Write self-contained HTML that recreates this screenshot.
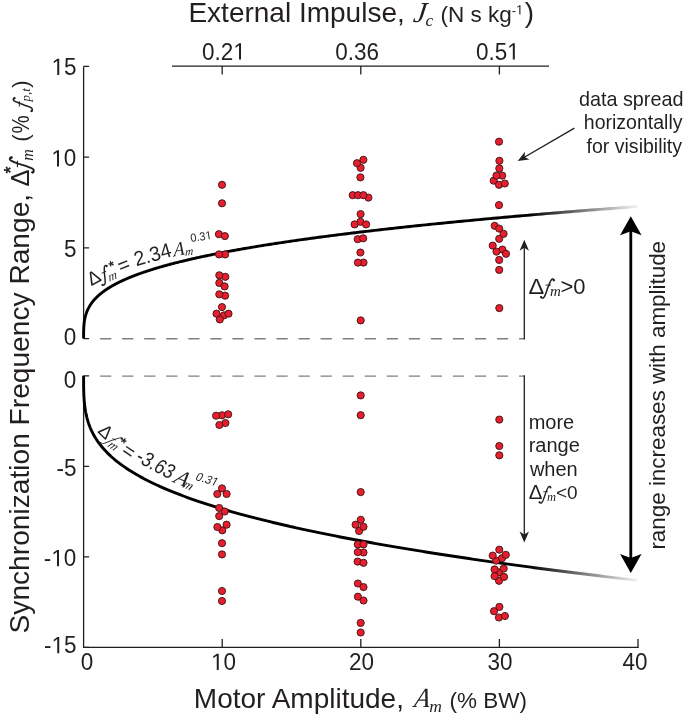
<!DOCTYPE html>
<html><head><meta charset="utf-8"><title>Synchronization frequency range</title>
<style>html,body{margin:0;padding:0;background:#fff;}svg{display:block;will-change:transform;}</style></head>
<body><svg width="685" height="716" viewBox="0 0 685 716">
<rect width="685" height="716" fill="#fff"/>
<path d="M83.60,66.35 V338.60 M83.60,375.80 V647.45 H638.60" stroke="#231f20" stroke-width="1.3" fill="none"/>
<path d="M83.60,66.35 h5.5 M83.60,157.10 h5.5 M83.60,247.85 h5.5 M83.60,338.60 h5.5 M83.60,375.80 h5.5 M83.60,466.35 h5.5 M83.60,556.90 h5.5 M83.60,647.45 h5.5 M222.20,647.45 v-8.5 M360.80,647.45 v-8.5 M499.40,647.45 v-8.5 M638.00,647.45 v-8.5" stroke="#231f20" stroke-width="1.3" fill="none"/>
<path d="M172,66.1 H549 M222.20,66.1 v8.4 M360.80,66.1 v8.4 M499.40,66.1 v8.4" stroke="#231f20" stroke-width="1.3" fill="none"/>
<path d="M100.1,338.70 H525 M100.1,376.15 H525" stroke="#7f7f7f" stroke-width="1.4" stroke-dasharray="11.2 10.85" fill="none"/>
<defs><g id="tf"><path d="M495,-630 C495,-690 420,-705 380,-660 C330,-600 290,-470 232,-332 C190,-220 160,-110 120,0 C90,90 60,170 10,200 C-30,225 -90,210 -105,168" fill="none" stroke="#231f20" stroke-width="72" stroke-linecap="round"/><circle cx="485" cy="-628" r="52"/><circle cx="-95" cy="170" r="52"/><path d="M105,-400 H355" stroke="#231f20" stroke-width="42"/></g></defs>
<defs><linearGradient id="fade" gradientUnits="userSpaceOnUse" x1="528" y1="0" x2="643" y2="0"><stop offset="0" stop-color="#000"/><stop offset="1" stop-color="#000" stop-opacity="0"/></linearGradient></defs>
<path d="M83.60,338.60 L83.60,338.25 L83.60,337.91 L83.60,337.57 L83.60,337.23 L83.60,336.89 L83.60,336.55 L83.60,336.21 L83.60,335.87 L83.60,335.54 L83.60,335.20 L83.61,334.86 L83.61,334.52 L83.61,334.19 L83.61,333.85 L83.62,333.51 L83.62,333.18 L83.62,332.84 L83.63,332.50 L83.63,332.17 L83.64,331.83 L83.64,331.50 L83.65,331.16 L83.66,330.83 L83.67,330.49 L83.68,330.16 L83.69,329.82 L83.70,329.49 L83.71,329.15 L83.72,328.82 L83.74,328.48 L83.75,328.15 L83.77,327.81 L83.79,327.48 L83.81,327.15 L83.83,326.81 L83.85,326.48 L83.87,326.14 L83.90,325.81 L83.92,325.48 L83.95,325.14 L83.98,324.81 L84.01,324.47 L84.04,324.14 L84.07,323.81 L84.11,323.47 L84.15,323.14 L84.19,322.81 L84.23,322.47 L84.27,322.14 L84.31,321.81 L84.36,321.47 L84.41,321.14 L84.46,320.81 L84.51,320.47 L84.57,320.14 L84.63,319.81 L84.69,319.48 L84.75,319.14 L84.81,318.81 L84.88,318.48 L84.95,318.14 L85.02,317.81 L85.10,317.48 L85.17,317.15 L85.25,316.81 L85.34,316.48 L85.42,316.15 L85.51,315.82 L85.60,315.48 L85.70,315.15 L85.79,314.82 L85.89,314.49 L86.00,314.16 L86.10,313.82 L86.21,313.49 L86.33,313.16 L86.44,312.83 L86.56,312.50 L86.69,312.16 L86.81,311.83 L86.94,311.50 L87.08,311.17 L87.22,310.84 L87.36,310.50 L87.50,310.17 L87.65,309.84 L87.80,309.51 L87.96,309.18 L88.12,308.85 L88.29,308.51 L88.45,308.18 L88.63,307.85 L88.80,307.52 L88.99,307.19 L89.17,306.86 L89.36,306.52 L89.56,306.19 L89.75,305.86 L89.96,305.53 L90.16,305.20 L90.38,304.87 L90.59,304.54 L90.82,304.21 L91.04,303.87 L91.27,303.54 L91.51,303.21 L91.75,302.88 L92.00,302.55 L92.25,302.22 L92.51,301.89 L92.77,301.56 L93.03,301.22 L93.31,300.89 L93.58,300.56 L93.87,300.23 L94.16,299.90 L94.45,299.57 L94.75,299.24 L95.05,298.91 L95.37,298.58 L95.68,298.25 L96.00,297.92 L96.33,297.58 L96.67,297.25 L97.01,296.92 L97.35,296.59 L97.71,296.26 L98.06,295.93 L98.43,295.60 L98.80,295.27 L99.18,294.94 L99.56,294.61 L99.95,294.28 L100.35,293.95 L100.75,293.62 L101.16,293.29 L101.58,292.96 L102.00,292.63 L102.43,292.29 L102.87,291.96 L103.31,291.63 L103.76,291.30 L104.22,290.97 L104.69,290.64 L105.16,290.31 L105.64,289.98 L106.12,289.65 L106.62,289.32 L107.12,288.99 L107.63,288.66 L108.14,288.33 L108.67,288.00 L109.20,287.67 L109.74,287.34 L110.29,287.01 L110.84,286.68 L111.40,286.35 L111.97,286.02 L112.55,285.69 L113.14,285.36 L113.74,285.03 L114.34,284.70 L114.95,284.37 L115.57,284.04 L116.20,283.71 L116.83,283.38 L117.48,283.05 L118.13,282.72 L118.79,282.39 L119.46,282.06 L120.14,281.73 L120.83,281.40 L121.53,281.07 L122.24,280.74 L122.95,280.41 L123.67,280.08 L124.41,279.75 L125.15,279.42 L125.90,279.09 L126.66,278.76 L127.43,278.43 L128.21,278.10 L129.00,277.77 L129.80,277.44 L130.61,277.11 L131.43,276.78 L132.25,276.45 L133.09,276.12 L133.94,275.79 L134.80,275.46 L135.66,275.13 L136.54,274.80 L137.43,274.47 L138.33,274.14 L139.23,273.82 L140.15,273.49 L141.08,273.16 L142.02,272.83 L142.97,272.50 L143.93,272.17 L144.90,271.84 L145.88,271.51 L146.87,271.18 L147.88,270.85 L148.89,270.52 L149.91,270.19 L150.95,269.86 L152.00,269.53 L153.05,269.20 L154.12,268.87 L155.20,268.54 L156.30,268.21 L157.40,267.88 L158.51,267.56 L159.64,267.23 L160.78,266.90 L161.93,266.57 L163.09,266.24 L164.26,265.91 L165.44,265.58 L166.64,265.25 L167.85,264.92 L169.07,264.59 L170.30,264.26 L171.55,263.93 L172.80,263.60 L174.07,263.28 L175.35,262.95 L176.65,262.62 L177.95,262.29 L179.27,261.96 L180.60,261.63 L181.95,261.30 L183.31,260.97 L184.68,260.64 L186.06,260.31 L187.45,259.98 L188.86,259.66 L190.29,259.33 L191.72,259.00 L193.17,258.67 L194.63,258.34 L196.10,258.01 L197.59,257.68 L199.09,257.35 L200.61,257.02 L202.14,256.69 L203.68,256.37 L205.24,256.04 L206.81,255.71 L208.39,255.38 L209.99,255.05 L211.60,254.72 L213.23,254.39 L214.87,254.06 L216.52,253.73 L218.19,253.41 L219.87,253.08 L221.57,252.75 L223.28,252.42 L225.01,252.09 L226.75,251.76 L228.51,251.43 L230.28,251.10 L232.06,250.77 L233.86,250.45 L235.68,250.12 L237.51,249.79 L239.35,249.46 L241.21,249.13 L243.09,248.80 L244.98,248.47 L246.89,248.14 L248.81,247.82 L250.75,247.49 L252.70,247.16 L254.67,246.83 L256.65,246.50 L258.65,246.17 L260.67,245.84 L262.70,245.52 L264.75,245.19 L266.81,244.86 L268.89,244.53 L270.98,244.20 L273.10,243.87 L275.23,243.54 L277.37,243.22 L279.53,242.89 L281.71,242.56 L283.90,242.23 L286.11,241.90 L288.34,241.57 L290.59,241.24 L292.85,240.92 L295.13,240.59 L297.42,240.26 L299.73,239.93 L302.06,239.60 L304.41,239.27 L306.77,238.95 L309.16,238.62 L311.55,238.29 L313.97,237.96 L316.40,237.63 L318.86,237.30 L321.32,236.97 L323.81,236.65 L326.32,236.32 L328.84,235.99 L331.38,235.66 L333.94,235.33 L336.51,235.00 L339.11,234.68 L341.72,234.35 L344.35,234.02 L347.00,233.69 L349.67,233.36 L352.36,233.03 L355.06,232.71 L357.79,232.38 L360.53,232.05 L363.29,231.72 L366.07,231.39 L368.87,231.07 L371.69,230.74 L374.53,230.41 L377.38,230.08 L380.26,229.75 L383.15,229.42 L386.07,229.10 L389.00,228.77 L391.96,228.44 L394.93,228.11 L397.92,227.78 L400.93,227.46 L403.97,227.13 L407.02,226.80 L410.09,226.47 L413.18,226.14 L416.29,225.81 L419.43,225.49 L422.58,225.16 L425.75,224.83 L428.94,224.50 L432.16,224.17 L435.39,223.85 L438.65,223.52 L441.92,223.19 L445.22,222.86 L448.53,222.53 L451.87,222.21 L455.23,221.88 L458.61,221.55 L462.01,221.22 L465.43,220.89 L468.87,220.57 L472.34,220.24 L475.82,219.91 L479.33,219.58 L482.86,219.25 L486.41,218.93 L489.98,218.60 L493.57,218.27 L497.19,217.94 L500.83,217.61 L504.48,217.29 L508.17,216.96 L511.87,216.63 L515.59,216.30 L519.34,215.98 L523.11,215.65 L526.90,215.32 L530.72,214.99 L534.55,214.66 L538.41,214.34 L542.29,214.01 L546.20,213.68 L550.13,213.35 L554.08,213.02 L558.05,212.70 L562.05,212.37 L566.07,212.04 L570.11,211.71 L574.18,211.39 L578.26,211.06 L582.38,210.73 L586.51,210.40 L590.67,210.07 L594.86,209.75 L599.06,209.42 L603.29,209.09 L607.55,208.76 L611.83,208.44 L616.13,208.11 L620.45,207.78 L624.80,207.45 L629.18,207.12 L633.58,206.80 L638.00,206.47" stroke="url(#fade)" stroke-width="2.9" fill="none"/>
<path d="M83.60,375.80 L83.60,376.34 L83.60,376.87 L83.60,377.40 L83.60,377.92 L83.60,378.45 L83.60,378.97 L83.60,379.50 L83.60,380.02 L83.60,380.54 L83.60,381.07 L83.61,381.59 L83.61,382.11 L83.61,382.63 L83.61,383.15 L83.62,383.68 L83.62,384.20 L83.62,384.72 L83.63,385.24 L83.63,385.76 L83.64,386.28 L83.64,386.80 L83.65,387.32 L83.66,387.84 L83.67,388.35 L83.68,388.87 L83.69,389.39 L83.70,389.91 L83.71,390.43 L83.72,390.95 L83.74,391.46 L83.75,391.98 L83.77,392.50 L83.79,393.02 L83.81,393.54 L83.83,394.05 L83.85,394.57 L83.87,395.09 L83.90,395.60 L83.92,396.12 L83.95,396.64 L83.98,397.15 L84.01,397.67 L84.04,398.19 L84.07,398.70 L84.11,399.22 L84.15,399.74 L84.19,400.25 L84.23,400.77 L84.27,401.29 L84.31,401.80 L84.36,402.32 L84.41,402.83 L84.46,403.35 L84.51,403.86 L84.57,404.38 L84.63,404.90 L84.69,405.41 L84.75,405.93 L84.81,406.44 L84.88,406.96 L84.95,407.47 L85.02,407.99 L85.10,408.50 L85.17,409.02 L85.25,409.53 L85.34,410.05 L85.42,410.56 L85.51,411.07 L85.60,411.59 L85.70,412.10 L85.79,412.62 L85.89,413.13 L86.00,413.65 L86.10,414.16 L86.21,414.68 L86.33,415.19 L86.44,415.70 L86.56,416.22 L86.69,416.73 L86.81,417.25 L86.94,417.76 L87.08,418.27 L87.22,418.79 L87.36,419.30 L87.50,419.81 L87.65,420.33 L87.80,420.84 L87.96,421.36 L88.12,421.87 L88.29,422.38 L88.45,422.90 L88.63,423.41 L88.80,423.92 L88.99,424.44 L89.17,424.95 L89.36,425.46 L89.56,425.98 L89.75,426.49 L89.96,427.00 L90.16,427.51 L90.38,428.03 L90.59,428.54 L90.82,429.05 L91.04,429.57 L91.27,430.08 L91.51,430.59 L91.75,431.11 L92.00,431.62 L92.25,432.13 L92.51,432.64 L92.77,433.16 L93.03,433.67 L93.31,434.18 L93.58,434.69 L93.87,435.21 L94.16,435.72 L94.45,436.23 L94.75,436.74 L95.05,437.26 L95.37,437.77 L95.68,438.28 L96.00,438.79 L96.33,439.30 L96.67,439.82 L97.01,440.33 L97.35,440.84 L97.71,441.35 L98.06,441.86 L98.43,442.38 L98.80,442.89 L99.18,443.40 L99.56,443.91 L99.95,444.42 L100.35,444.94 L100.75,445.45 L101.16,445.96 L101.58,446.47 L102.00,446.98 L102.43,447.49 L102.87,448.01 L103.31,448.52 L103.76,449.03 L104.22,449.54 L104.69,450.05 L105.16,450.56 L105.64,451.08 L106.12,451.59 L106.62,452.10 L107.12,452.61 L107.63,453.12 L108.14,453.63 L108.67,454.14 L109.20,454.66 L109.74,455.17 L110.29,455.68 L110.84,456.19 L111.40,456.70 L111.97,457.21 L112.55,457.72 L113.14,458.23 L113.74,458.74 L114.34,459.26 L114.95,459.77 L115.57,460.28 L116.20,460.79 L116.83,461.30 L117.48,461.81 L118.13,462.32 L118.79,462.83 L119.46,463.34 L120.14,463.85 L120.83,464.36 L121.53,464.88 L122.24,465.39 L122.95,465.90 L123.67,466.41 L124.41,466.92 L125.15,467.43 L125.90,467.94 L126.66,468.45 L127.43,468.96 L128.21,469.47 L129.00,469.98 L129.80,470.49 L130.61,471.00 L131.43,471.51 L132.25,472.02 L133.09,472.53 L133.94,473.04 L134.80,473.56 L135.66,474.07 L136.54,474.58 L137.43,475.09 L138.33,475.60 L139.23,476.11 L140.15,476.62 L141.08,477.13 L142.02,477.64 L142.97,478.15 L143.93,478.66 L144.90,479.17 L145.88,479.68 L146.87,480.19 L147.88,480.70 L148.89,481.21 L149.91,481.72 L150.95,482.23 L152.00,482.74 L153.05,483.25 L154.12,483.76 L155.20,484.27 L156.30,484.78 L157.40,485.29 L158.51,485.80 L159.64,486.31 L160.78,486.82 L161.93,487.33 L163.09,487.84 L164.26,488.35 L165.44,488.86 L166.64,489.37 L167.85,489.88 L169.07,490.39 L170.30,490.90 L171.55,491.41 L172.80,491.92 L174.07,492.43 L175.35,492.94 L176.65,493.44 L177.95,493.95 L179.27,494.46 L180.60,494.97 L181.95,495.48 L183.31,495.99 L184.68,496.50 L186.06,497.01 L187.45,497.52 L188.86,498.03 L190.29,498.54 L191.72,499.05 L193.17,499.56 L194.63,500.07 L196.10,500.58 L197.59,501.09 L199.09,501.60 L200.61,502.11 L202.14,502.62 L203.68,503.12 L205.24,503.63 L206.81,504.14 L208.39,504.65 L209.99,505.16 L211.60,505.67 L213.23,506.18 L214.87,506.69 L216.52,507.20 L218.19,507.71 L219.87,508.22 L221.57,508.73 L223.28,509.23 L225.01,509.74 L226.75,510.25 L228.51,510.76 L230.28,511.27 L232.06,511.78 L233.86,512.29 L235.68,512.80 L237.51,513.31 L239.35,513.82 L241.21,514.33 L243.09,514.83 L244.98,515.34 L246.89,515.85 L248.81,516.36 L250.75,516.87 L252.70,517.38 L254.67,517.89 L256.65,518.40 L258.65,518.91 L260.67,519.41 L262.70,519.92 L264.75,520.43 L266.81,520.94 L268.89,521.45 L270.98,521.96 L273.10,522.47 L275.23,522.98 L277.37,523.48 L279.53,523.99 L281.71,524.50 L283.90,525.01 L286.11,525.52 L288.34,526.03 L290.59,526.54 L292.85,527.04 L295.13,527.55 L297.42,528.06 L299.73,528.57 L302.06,529.08 L304.41,529.59 L306.77,530.10 L309.16,530.60 L311.55,531.11 L313.97,531.62 L316.40,532.13 L318.86,532.64 L321.32,533.15 L323.81,533.66 L326.32,534.16 L328.84,534.67 L331.38,535.18 L333.94,535.69 L336.51,536.20 L339.11,536.71 L341.72,537.21 L344.35,537.72 L347.00,538.23 L349.67,538.74 L352.36,539.25 L355.06,539.76 L357.79,540.26 L360.53,540.77 L363.29,541.28 L366.07,541.79 L368.87,542.30 L371.69,542.80 L374.53,543.31 L377.38,543.82 L380.26,544.33 L383.15,544.84 L386.07,545.35 L389.00,545.85 L391.96,546.36 L394.93,546.87 L397.92,547.38 L400.93,547.89 L403.97,548.39 L407.02,548.90 L410.09,549.41 L413.18,549.92 L416.29,550.43 L419.43,550.93 L422.58,551.44 L425.75,551.95 L428.94,552.46 L432.16,552.97 L435.39,553.47 L438.65,553.98 L441.92,554.49 L445.22,555.00 L448.53,555.51 L451.87,556.01 L455.23,556.52 L458.61,557.03 L462.01,557.54 L465.43,558.04 L468.87,558.55 L472.34,559.06 L475.82,559.57 L479.33,560.08 L482.86,560.58 L486.41,561.09 L489.98,561.60 L493.57,562.11 L497.19,562.61 L500.83,563.12 L504.48,563.63 L508.17,564.14 L511.87,564.65 L515.59,565.15 L519.34,565.66 L523.11,566.17 L526.90,566.68 L530.72,567.18 L534.55,567.69 L538.41,568.20 L542.29,568.71 L546.20,569.21 L550.13,569.72 L554.08,570.23 L558.05,570.74 L562.05,571.24 L566.07,571.75 L570.11,572.26 L574.18,572.77 L578.26,573.27 L582.38,573.78 L586.51,574.29 L590.67,574.80 L594.86,575.30 L599.06,575.81 L603.29,576.32 L607.55,576.83 L611.83,577.33 L616.13,577.84 L620.45,578.35 L624.80,578.86 L629.18,579.36 L633.58,579.87 L638.00,580.38" stroke="url(#fade)" stroke-width="2.9" fill="none"/>
<g fill="#e61e2d" stroke="#3a1416" stroke-width="0.9">
<circle cx="222.0" cy="184.8" r="3.6"/>
<circle cx="222.0" cy="203.3" r="3.6"/>
<circle cx="218.9" cy="234.2" r="3.6"/>
<circle cx="224.9" cy="236.1" r="3.6"/>
<circle cx="225.1" cy="254.4" r="3.6"/>
<circle cx="219.1" cy="254.4" r="3.6"/>
<circle cx="225.3" cy="276.8" r="3.6"/>
<circle cx="219.3" cy="275.3" r="3.6"/>
<circle cx="219.3" cy="282.9" r="3.6"/>
<circle cx="224.6" cy="286.4" r="3.6"/>
<circle cx="225.1" cy="295.7" r="3.6"/>
<circle cx="219.3" cy="294.3" r="3.6"/>
<circle cx="223.9" cy="315.4" r="3.6"/>
<circle cx="219.8" cy="319.4" r="3.6"/>
<circle cx="216.5" cy="313.7" r="3.6"/>
<circle cx="228.5" cy="313.7" r="3.6"/>
<circle cx="222.0" cy="307.1" r="3.6"/>
<circle cx="221.9" cy="415.3" r="3.6"/>
<circle cx="216.1" cy="415.7" r="3.6"/>
<circle cx="228.2" cy="414.3" r="3.6"/>
<circle cx="225.4" cy="423.0" r="3.6"/>
<circle cx="219.4" cy="425.0" r="3.6"/>
<circle cx="222.0" cy="488.4" r="3.6"/>
<circle cx="217.3" cy="494.0" r="3.6"/>
<circle cx="226.6" cy="494.0" r="3.6"/>
<circle cx="219.2" cy="508.0" r="3.6"/>
<circle cx="224.7" cy="511.5" r="3.6"/>
<circle cx="219.2" cy="516.1" r="3.6"/>
<circle cx="222.3" cy="530.3" r="3.6"/>
<circle cx="217.4" cy="527.0" r="3.6"/>
<circle cx="226.6" cy="524.7" r="3.6"/>
<circle cx="222.0" cy="543.2" r="3.6"/>
<circle cx="222.0" cy="554.4" r="3.6"/>
<circle cx="222.0" cy="591.0" r="3.6"/>
<circle cx="222.0" cy="601.0" r="3.6"/>
<circle cx="360.6" cy="167.8" r="3.6"/>
<circle cx="357.0" cy="163.2" r="3.6"/>
<circle cx="363.4" cy="159.8" r="3.6"/>
<circle cx="360.4" cy="177.4" r="3.6"/>
<circle cx="352.7" cy="195.2" r="3.6"/>
<circle cx="358.0" cy="195.2" r="3.6"/>
<circle cx="368.4" cy="197.6" r="3.6"/>
<circle cx="363.4" cy="195.2" r="3.6"/>
<circle cx="360.4" cy="221.8" r="3.6"/>
<circle cx="360.6" cy="214.1" r="3.6"/>
<circle cx="354.6" cy="224.4" r="3.6"/>
<circle cx="366.1" cy="224.4" r="3.6"/>
<circle cx="357.7" cy="239.2" r="3.6"/>
<circle cx="363.2" cy="238.3" r="3.6"/>
<circle cx="360.4" cy="252.5" r="3.6"/>
<circle cx="363.5" cy="262.6" r="3.6"/>
<circle cx="357.9" cy="262.6" r="3.6"/>
<circle cx="360.7" cy="320.4" r="3.6"/>
<circle cx="360.7" cy="395.4" r="3.6"/>
<circle cx="360.7" cy="415.2" r="3.6"/>
<circle cx="360.7" cy="492.1" r="3.6"/>
<circle cx="360.8" cy="519.8" r="3.6"/>
<circle cx="359.1" cy="531.0" r="3.6"/>
<circle cx="355.6" cy="524.7" r="3.6"/>
<circle cx="363.5" cy="526.8" r="3.6"/>
<circle cx="357.8" cy="544.4" r="3.6"/>
<circle cx="363.5" cy="544.4" r="3.6"/>
<circle cx="363.5" cy="552.5" r="3.6"/>
<circle cx="357.8" cy="552.1" r="3.6"/>
<circle cx="357.6" cy="561.6" r="3.6"/>
<circle cx="363.5" cy="562.8" r="3.6"/>
<circle cx="357.9" cy="583.5" r="3.6"/>
<circle cx="363.5" cy="587.1" r="3.6"/>
<circle cx="357.9" cy="596.7" r="3.6"/>
<circle cx="363.5" cy="600.5" r="3.6"/>
<circle cx="360.7" cy="622.9" r="3.6"/>
<circle cx="360.7" cy="632.5" r="3.6"/>
<circle cx="499.0" cy="141.7" r="3.6"/>
<circle cx="499.4" cy="160.8" r="3.6"/>
<circle cx="499.3" cy="168.4" r="3.6"/>
<circle cx="502.2" cy="175.6" r="3.6"/>
<circle cx="493.7" cy="180.7" r="3.6"/>
<circle cx="496.5" cy="175.6" r="3.6"/>
<circle cx="499.0" cy="184.8" r="3.6"/>
<circle cx="504.8" cy="183.5" r="3.6"/>
<circle cx="499.0" cy="205.1" r="3.6"/>
<circle cx="494.7" cy="225.8" r="3.6"/>
<circle cx="499.2" cy="228.6" r="3.6"/>
<circle cx="499.2" cy="238.8" r="3.6"/>
<circle cx="503.6" cy="233.8" r="3.6"/>
<circle cx="492.7" cy="245.6" r="3.6"/>
<circle cx="502.4" cy="249.6" r="3.6"/>
<circle cx="506.0" cy="253.8" r="3.6"/>
<circle cx="496.5" cy="251.6" r="3.6"/>
<circle cx="499.2" cy="259.9" r="3.6"/>
<circle cx="499.2" cy="269.9" r="3.6"/>
<circle cx="499.3" cy="308.1" r="3.6"/>
<circle cx="499.3" cy="419.6" r="3.6"/>
<circle cx="499.3" cy="446.0" r="3.6"/>
<circle cx="499.3" cy="455.3" r="3.6"/>
<circle cx="496.3" cy="560.6" r="3.6"/>
<circle cx="502.0" cy="558.2" r="3.6"/>
<circle cx="499.3" cy="549.7" r="3.6"/>
<circle cx="492.7" cy="555.6" r="3.6"/>
<circle cx="505.8" cy="554.8" r="3.6"/>
<circle cx="499.0" cy="572.4" r="3.6"/>
<circle cx="499.0" cy="580.8" r="3.6"/>
<circle cx="494.6" cy="569.4" r="3.6"/>
<circle cx="503.7" cy="568.6" r="3.6"/>
<circle cx="494.6" cy="576.1" r="3.6"/>
<circle cx="504.0" cy="576.9" r="3.6"/>
<circle cx="499.4" cy="606.9" r="3.6"/>
<circle cx="494.0" cy="611.2" r="3.6"/>
<circle cx="498.9" cy="617.5" r="3.6"/>
<circle cx="504.9" cy="616.0" r="3.6"/>
</g>
<path d="M524.3,339.20 V246 M524.3,375.20 V535" stroke="#231f20" stroke-width="1.3" fill="none"/>
<path d="M524.30,239.80 L529.00,250.80 L524.30,247.80 L519.60,250.80 Z" fill="#231f20"/>
<path d="M524.30,542.60 L519.60,531.60 L524.30,534.60 L529.00,531.60 Z" fill="#231f20"/>
<path d="M630.8,228 V563" stroke="#000" stroke-width="2.8" fill="none"/>
<path d="M630.80,216.30 L641.55,235.30 L630.80,231.30 L620.05,235.30 Z" fill="#000"/>
<path d="M630.80,573.00 L620.05,554.00 L630.80,558.00 L641.55,554.00 Z" fill="#000"/>
<path d="M574.4,128.2 L523,158" stroke="#231f20" stroke-width="1.4" fill="none"/>
<path d="M517.70,161.10 L524.96,151.69 L524.62,157.08 L529.47,159.47 Z" fill="#231f20"/>
<g transform="translate(53.35,74.98) scale(1,1.05)"><text x="-1.75" y="0" font-family="Liberation Sans" font-size="22.5" fill="#231f20"> 5</text><path d="M515,0V1237L197,1010V1180L530,1409H696V0Z" fill="#231f20" transform="translate(-1.750,0) scale(0.010986,-0.010986)"/></g>
<g transform="translate(53.10,166.45) scale(1,1.05)"><text x="-1.75" y="0" font-family="Liberation Sans" font-size="22.5" fill="#231f20"> 0</text><path d="M515,0V1237L197,1010V1180L530,1409H696V0Z" fill="#231f20" transform="translate(-1.750,0) scale(0.010986,-0.010986)"/></g>
<g transform="translate(65.10,257.33) scale(1,1.05)"><text x="-1.00" y="0" font-family="Liberation Sans" font-size="22.5" fill="#231f20">5</text></g>
<g transform="translate(64.85,345.15) scale(1,1.05)"><text x="-1.00" y="0" font-family="Liberation Sans" font-size="22.5" fill="#231f20">0</text></g>
<g transform="translate(64.85,387.95) scale(1,1.05)"><text x="-1.00" y="0" font-family="Liberation Sans" font-size="22.5" fill="#231f20">0</text></g>
<g transform="translate(57.60,475.92) scale(1,1.05)"><text x="-1.00" y="0" font-family="Liberation Sans" font-size="22.5" fill="#231f20">-5</text></g>
<g transform="translate(44.85,566.15) scale(1,1.05)"><text x="-1.00" y="0" font-family="Liberation Sans" font-size="22.5" fill="#231f20">- 0</text><path d="M515,0V1237L197,1010V1180L530,1409H696V0Z" fill="#231f20" transform="translate(6.492,0) scale(0.010986,-0.010986)"/></g>
<g transform="translate(45.10,653.32) scale(1,1.05)"><text x="-1.00" y="0" font-family="Liberation Sans" font-size="22.5" fill="#231f20">- 5</text><path d="M515,0V1237L197,1010V1180L530,1409H696V0Z" fill="#231f20" transform="translate(6.492,0) scale(0.010986,-0.010986)"/></g>
<g transform="translate(81.62,669.90) scale(1,1.05)"><text x="-1.00" y="0" font-family="Liberation Sans" font-size="22.5" fill="#231f20">0</text></g>
<g transform="translate(212.85,669.90) scale(1,1.05)"><text x="-1.75" y="0" font-family="Liberation Sans" font-size="22.5" fill="#231f20"> 0</text><path d="M515,0V1237L197,1010V1180L530,1409H696V0Z" fill="#231f20" transform="translate(-1.750,0) scale(0.010986,-0.010986)"/></g>
<g transform="translate(350.30,669.90) scale(1,1.05)"><text x="-1.25" y="0" font-family="Liberation Sans" font-size="22.5" fill="#231f20">20</text></g>
<g transform="translate(488.57,669.90) scale(1,1.05)"><text x="-1.00" y="0" font-family="Liberation Sans" font-size="22.5" fill="#231f20">30</text></g>
<g transform="translate(622.92,669.90) scale(1,1.05)"><text x="-0.50" y="0" font-family="Liberation Sans" font-size="22.5" fill="#231f20">40</text></g>
<g transform="translate(203.10,59.60) scale(1,1.05)"><text x="-1.00" y="0" font-family="Liberation Sans" font-size="22.5" fill="#231f20">0.2 </text><path d="M515,0V1237L197,1010V1180L530,1409H696V0Z" fill="#231f20" transform="translate(30.273,0) scale(0.010986,-0.010986)"/></g>
<g transform="translate(336.30,59.60) scale(1,1.05)"><text x="-1.00" y="0" font-family="Liberation Sans" font-size="22.5" fill="#231f20">0.36</text></g>
<g transform="translate(476.90,59.60) scale(1,1.05)"><text x="-1.00" y="0" font-family="Liberation Sans" font-size="22.5" fill="#231f20">0.5 </text><path d="M515,0V1237L197,1010V1180L530,1409H696V0Z" fill="#231f20" transform="translate(30.273,0) scale(0.010986,-0.010986)"/></g>
<text x="188.45" y="21.70" font-family="Liberation Sans" font-size="28" fill="#231f20">External Impulse,</text>
<g transform="translate(413.00,21.90) skewX(-8)"><text x="-0.50" y="0" font-family="Liberation Serif" font-style="italic" font-size="29" fill="#231f20">J</text></g>
<text x="425.40" y="26.20" font-family="Liberation Serif" font-style="italic" font-size="17.5" fill="#231f20">c</text>
<text x="440.50" y="21.70" font-family="Liberation Sans" font-size="22.5" fill="#231f20">(N s kg</text>
<g transform="translate(512.20,14.60) scale(1,1.05)"><text x="-0.50" y="0" font-family="Liberation Sans" font-size="13" fill="#231f20">- </text><path d="M515,0V1237L197,1010V1180L530,1409H696V0Z" fill="#231f20" transform="translate(3.828,0) scale(0.006348,-0.006348)"/></g>
<text x="524.75" y="21.70" font-family="Liberation Sans" font-size="28" fill="#231f20">)</text>
<text x="193.85" y="708.00" font-family="Liberation Sans" font-size="28" fill="#231f20">Motor Amplitude,</text>
<g transform="translate(412.20,707.30) scale(0.93,1) skewX(-10)"><text x="1.50" y="0" font-family="Liberation Serif" font-style="italic" font-size="27.5" fill="#231f20">A</text></g>
<text x="429.25" y="711.60" font-family="Liberation Serif" font-style="italic" font-size="17.5" fill="#231f20">m</text>
<text x="449.50" y="707.60" font-family="Liberation Sans" font-size="22.5" fill="#231f20">(% BW)</text>
<g transform="translate(28.7,631.8) rotate(-90)"><text x="-1.65" y="0.00" font-family="Liberation Sans" font-size="28.15" fill="#231f20">Synchronization Frequency Range,</text><text x="445.35" y="0.00" font-family="Liberation Sans" font-size="25.5" fill="#231f20">Δ</text><use href="#tf" fill="#231f20" transform=" translate(461.997,-0.590) scale(0.02515,0.02671)"/><text x="458.30" y="-11.50" font-family="Liberation Sans" font-weight="bold" font-size="18" fill="#231f20">*</text><text x="471.00" y="3.80" font-family="Liberation Serif" font-style="italic" font-size="16" fill="#231f20">m</text><text x="490.10" y="-1.00" font-family="Liberation Sans" font-size="22.5" fill="#231f20">(</text><g transform="translate(499.00,0.10) scale(0.93,1.09)"><text x="-0.75" y="0" font-family="Liberation Sans" font-size="22" fill="#231f20">%</text></g><use href="#tf" fill="#231f20" transform=" translate(522.843,-0.857) scale(0.02206,0.02122)"/><text x="530.25" y="1.60" font-family="Liberation Serif" font-style="italic" font-size="13" fill="#231f20">p,t</text><text x="543.95" y="-1.00" font-family="Liberation Sans" font-size="22.5" fill="#231f20">)</text></g>
<text x="578.95" y="105.80" font-family="Liberation Sans" font-size="19.8" fill="#231f20">data spread</text>
<text x="583.85" y="129.10" font-family="Liberation Sans" font-size="19.5" fill="#231f20">horizontally</text>
<text x="586.55" y="152.60" font-family="Liberation Sans" font-size="19.55" fill="#231f20">for visibility</text>
<g transform="translate(529.30,293.70) scale(1.07,1)"><text x="-0.75" y="0" font-family="Liberation Sans" font-size="22" fill="#231f20">Δ</text></g>
<use href="#tf" fill="#231f20" transform=" translate(543.199,293.568) scale(0.02176,0.02112)"/>
<text x="550.00" y="295.60" font-family="Liberation Serif" font-style="italic" font-size="15" fill="#231f20">m</text>
<text x="560.50" y="293.70" font-family="Liberation Sans" font-size="22" fill="#231f20">&gt;0</text>
<text x="528.65" y="428.70" font-family="Liberation Sans" font-size="20" fill="#231f20">more</text>
<text x="528.65" y="452.20" font-family="Liberation Sans" font-size="20" fill="#231f20">range</text>
<text x="529.90" y="475.50" font-family="Liberation Sans" font-size="20" fill="#231f20">when</text>
<g transform="translate(529.30,498.80) scale(1.05,1)"><text x="-0.50" y="0" font-family="Liberation Sans" font-size="19.5" fill="#231f20">Δ</text></g>
<use href="#tf" fill="#231f20" transform=" translate(541.345,499.097) scale(0.01868,0.01853)"/>
<text x="547.10" y="500.60" font-family="Liberation Serif" font-style="italic" font-size="12.5" fill="#231f20">m</text>
<text x="556.00" y="498.80" font-family="Liberation Sans" font-size="19" fill="#231f20">&lt;0</text>
<g transform="translate(664.8,548.7) rotate(-90)"><text x="-0.90" y="0.00" font-family="Liberation Sans" font-size="22.4" fill="#231f20">range increases with amplitude</text></g>
<g transform="translate(91.8,285.9) rotate(-29)"><text x="-0.50" y="0.00" font-family="Liberation Sans" font-size="19" fill="#231f20">Δ</text></g>
<use href="#tf" fill="#231f20" transform="translate(102.5,281.5) rotate(-26) translate(0.526,-0.178) scale(0.02059,0.01884)"/>
<g transform="translate(111.3,271.2) rotate(-22)"><text x="0.00" y="0.00" font-family="Liberation Sans" font-weight="bold" font-size="14" fill="#231f20">*</text></g>
<g transform="translate(109.6,281.6) rotate(-24) skewX(-12)"><text x="-0.50" y="0.00" font-family="Liberation Serif" font-style="italic" font-size="12.5" fill="#231f20">m</text></g>
<g transform="translate(121.6,272.8) rotate(-22)"><text x="-1.00" y="0.00" font-family="Liberation Sans" font-size="20" fill="#231f20">=</text></g>
<g transform="translate(137.1,266.1) rotate(-16)"><g transform="translate(0.00,0.00) scale(1,1.05)"><text x="-1.00" y="0" font-family="Liberation Sans" font-size="19.5" fill="#231f20">2.34</text></g></g>
<g transform="translate(172.8,256.6) rotate(-11) skewX(-10) scale(0.93,1)"><text x="1.00" y="0.00" font-family="Liberation Serif" font-style="italic" font-size="19.5" fill="#231f20">A</text></g>
<g transform="translate(185.6,255.9) rotate(-10) skewX(-12)"><text x="-0.50" y="0.00" font-family="Liberation Serif" font-style="italic" font-size="11.5" fill="#231f20">m</text></g>
<g transform="translate(191.5,242.0) rotate(-9)"><g transform="translate(0.00,0.00) scale(1,1.05)"><text x="-0.50" y="0" font-family="Liberation Sans" font-size="11" fill="#231f20">0.3 </text><path d="M515,0V1237L197,1010V1180L530,1409H696V0Z" fill="#231f20" transform="translate(14.789,0) scale(0.005371,-0.005371)"/></g></g>
<g transform="translate(97.3,432.0) rotate(44)"><text x="-0.50" y="0.00" font-family="Liberation Sans" font-size="18.5" fill="#231f20">Δ</text></g>
<use href="#tf" fill="#231f20" transform="translate(104.0,441.8) rotate(28) skewX(-30) translate(0.270,-0.300) scale(0.01544,0.01687)"/>
<g transform="translate(117.8,445.1) rotate(33)"><text x="0.00" y="0.00" font-family="Liberation Sans" font-weight="bold" font-size="14" fill="#231f20">*</text></g>
<g transform="translate(107.3,446.5) rotate(33) skewX(-10)"><text x="-0.50" y="0.00" font-family="Liberation Serif" font-style="italic" font-size="12.5" fill="#231f20">m</text></g>
<g transform="translate(121.2,454.0) rotate(34)"><text x="-1.00" y="0.00" font-family="Liberation Sans" font-size="20" fill="#231f20">=</text></g>
<g transform="translate(135.0,461.0) rotate(28) skewX(-6) scale(0.88,1)"><g transform="translate(0.00,0.00) scale(1,1.05)"><text x="-1.00" y="0" font-family="Liberation Sans" font-size="20" fill="#231f20">-3.63</text></g></g>
<g transform="translate(171.3,481.6) rotate(22) skewX(-10)"><text x="1.25" y="0.00" font-family="Liberation Serif" font-style="italic" font-size="22" fill="#231f20">A</text></g>
<g transform="translate(182.3,487.5) rotate(20) skewX(-12)"><text x="-0.50" y="0.00" font-family="Liberation Serif" font-style="italic" font-size="13" fill="#231f20">m</text></g>
<g transform="translate(195.0,479.8) rotate(17) skewX(-12)"><g transform="translate(0.00,0.00) scale(1,1.05)"><text x="-0.50" y="0" font-family="Liberation Sans" font-size="11.5" fill="#231f20">0.3 </text><path d="M515,0V1237L197,1010V1180L530,1409H696V0Z" fill="#231f20" transform="translate(15.484,0) scale(0.005615,-0.005615)"/></g></g>
</svg></body></html>
